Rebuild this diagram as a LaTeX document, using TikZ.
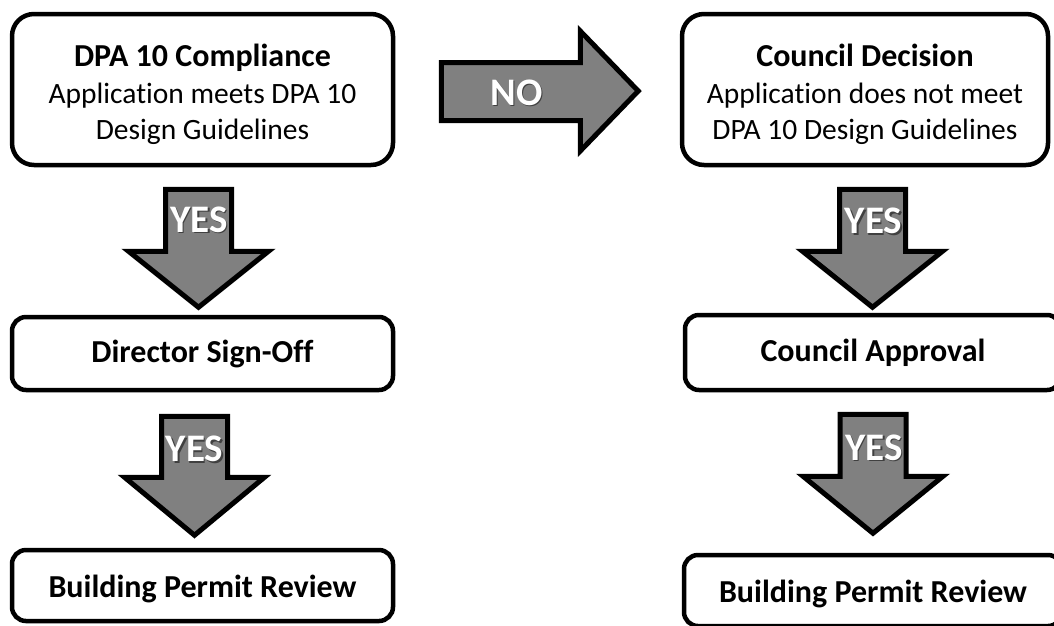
\documentclass[tikz,border=0pt]{standalone}
\usepackage{fontspec}
\setmainfont{Carlito}[Ligatures={NoCommon}]
\usepackage{tikz}
\usetikzlibrary{calc}
\pgfdeclarelayer{edgelayer}
\pgfdeclarelayer{nodelayer}
\pgfsetlayers{edgelayer,nodelayer,main}
\tikzstyle{none}=[inner sep=0pt]
\tikzstyle{box}=[draw=black, line width=4.5pt, fill=white, rounded corners=14pt, align=center, inner sep=0pt, font=\bfseries\fontsize{32}{36.5}\selectfont]
\tikzstyle{bigbox}=[box, rounded corners=22pt, font=\fontsize{29.5}{36.5}\selectfont]
\tikzstyle{lowbox}=[box, text height=30pt]
\tikzstyle{blockarrow}=[draw=black, fill=gray, line width=5pt, line join=miter]
\tikzstyle{answer}=[inner sep=0pt, text=white, font=\bfseries\fontsize{39}{39}\selectfont]
\newcommand{\glowtext}[1]{\makebox[0pt][l]{\hspace{1.5pt}\raisebox{-1.5pt}{\textcolor{black!75}{#1}}}#1}
\newcommand{\boxtitle}[1]{{\rule{0pt}{33pt}\bfseries\fontsize{32}{36.5}\selectfont #1}}

\begin{document}
\begin{tikzpicture}[x=1pt, y=-1pt]
	\useasboundingbox (0, 0) rectangle (1054, 625);
	\begin{pgfonlayer}{nodelayer}
		\node [style=bigbox, minimum width=381pt, minimum height=151pt] (0) at (202.5, 89.5) {\boxtitle{DPA 10 Compliance}\\Application meets DPA 10\\Design Guidelines};
		\node [style=bigbox, minimum width=366pt, minimum height=151pt] (1) at (865, 89.5) {\boxtitle{Council Decision}\\Application does not meet\\DPA 10 Design Guidelines};
		\node [style=box, minimum width=381pt, minimum height=73pt] (2) at (202.5, 353.5) {Director Sign-Off};
		\node [style=box, minimum width=376pt, minimum height=75pt] (3) at (873, 352.5) {Council Approval};
		\node [style=lowbox, minimum width=381pt, minimum height=71pt] (4) at (202.5, 585.5) {Building Permit Review};
		\node [style=lowbox, minimum width=378pt, minimum height=71pt] (5) at (873, 590.5) {Building Permit Review};
		\node [style=answer] (6) at (516.5, 93.5) {\glowtext{NO}};
		\node [style=answer] (7) at (199, 220.5) {\glowtext{YES}};
		\node [style=answer] (8) at (873.5, 222) {\glowtext{YES}};
		\node [style=answer] (9) at (194.5, 450) {\glowtext{YES}};
		\node [style=answer] (10) at (874, 448.5) {\glowtext{YES}};
	\end{pgfonlayer}
	\begin{pgfonlayer}{edgelayer}
		\draw [style=blockarrow] ($(0.east)+(46,-27)$) -- ($(0.east)+(185,-27)$) -- ($(0.east)+(185,-58.5)$) -- ($(0.east)+(243,1.5)$) -- ($(0.east)+(185,61.5)$) -- ($(0.east)+(185,31)$) -- ($(0.east)+(46,31)$) -- cycle;
		\draw [style=blockarrow] ($(0.south)+(-37,22)$) -- ($(0.south)+(29,22)$) -- ($(0.south)+(29,84)$) -- ($(0.south)+(66,84)$) -- ($(0.south)+(-4,140)$) -- ($(0.south)+(-74,84)$) -- ($(0.south)+(-37,84)$) -- cycle;
		\draw [style=blockarrow] ($(1.south)+(-25.5,22)$) -- ($(1.south)+(40.5,22)$) -- ($(1.south)+(40.5,84)$) -- ($(1.south)+(77.5,84)$) -- ($(1.south)+(7.5,140)$) -- ($(1.south)+(-62.5,84)$) -- ($(1.south)+(-25.5,84)$) -- cycle;
		\draw [style=blockarrow] ($(2.south)+(-41,24)$) -- ($(2.south)+(25,24)$) -- ($(2.south)+(25,85)$) -- ($(2.south)+(62,85)$) -- ($(2.south)+(-8,143)$) -- ($(2.south)+(-78,85)$) -- ($(2.south)+(-41,85)$) -- cycle;
		\draw [style=blockarrow] ($(3.south)+(-33,22)$) -- ($(3.south)+(33,22)$) -- ($(3.south)+(33,84)$) -- ($(3.south)+(70,84)$) -- ($(3.south)+(0,141)$) -- ($(3.south)+(-70,84)$) -- ($(3.south)+(-33,84)$) -- cycle;
	\end{pgfonlayer}
\end{tikzpicture}
\end{document}
